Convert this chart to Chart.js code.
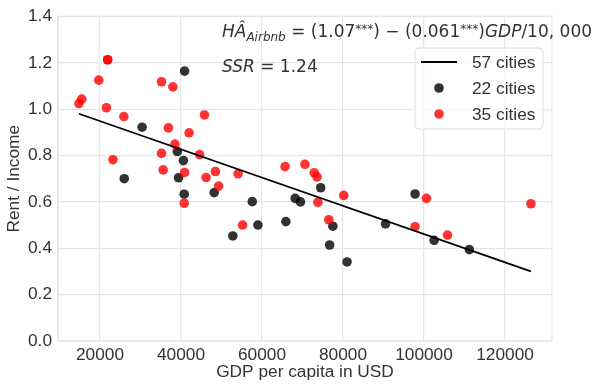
<!DOCTYPE html>
<html><head><meta charset="utf-8">
<script src="https://cdn.jsdelivr.net/npm/chart.js@4/dist/chart.umd.min.js"></script>
<style>html,body{margin:0;padding:0;background:#fff}#wrap{width:602px;height:389px}</style>
</head><body><div id="wrap"><canvas id="c" width="602" height="389"></canvas></div>
<script>
const xTicks = [20000, 40000, 60000, 80000, 100000, 120000];
const yTicks = [0, 0.2, 0.4, 0.6, 0.8, 1.0, 1.2, 1.4];
const lineX = [14800, 126400];
const lineY = [0.98, 0.30];
const blackX = [40900, 30400, 39100, 40600, 26000, 39400, 40800, 48200, 57600, 59000, 52800, 74500, 68200, 69500, 65900, 77500, 76700, 81000, 97800, 90500, 102500, 111200];
const blackY = [1.164, 0.922, 0.817, 0.778, 0.700, 0.704, 0.633, 0.640, 0.601, 0.500, 0.453, 0.661, 0.615, 0.600, 0.515, 0.495, 0.414, 0.341, 0.634, 0.505, 0.434, 0.394];
const redX = [14800, 15500, 21900, 21900, 19700, 21600, 25900, 23200, 35200, 38000, 36900, 42000, 45800, 38500, 35200, 35600, 40900, 44600, 48500, 46200, 49300, 54100, 40800, 55200, 65700, 70600, 72900, 73600, 73800, 80200, 76500, 100600, 97800, 105800, 126400];
const redY = [1.024, 1.043, 1.213, 1.213, 1.125, 1.006, 0.968, 0.782, 1.118, 1.096, 0.919, 0.898, 0.975, 0.849, 0.809, 0.738, 0.727, 0.804, 0.731, 0.705, 0.668, 0.721, 0.594, 0.500, 0.752, 0.762, 0.725, 0.708, 0.598, 0.628, 0.523, 0.615, 0.493, 0.457, 0.592];
const legendLabels = ['57 cities', '22 cities', '35 cities'];
const xTitle = 'GDP per capita in USD';
const yTitle = 'Rent / Income';

const BLACK = 'rgba(0,0,0,0.8)';
const RED = 'rgba(255,0,0,0.8)';
const GRID = '#e5e5e5';
const TXT = '#333333';
const SANS = '"Liberation Sans", Arial, sans-serif';
const MATH = '"DejaVu Sans", sans-serif';
const FS = 17.3;

const pts = (xs, ys) => xs.map((x, i) => ({x: x, y: ys[i]}));

const framePlugin = {
  id: 'frame',
  beforeDatasetsDraw(chart) {
    const {ctx, chartArea: a} = chart;
    ctx.save();
    ctx.strokeStyle = GRID; ctx.lineWidth = 1.2;
    ctx.strokeRect(a.left, a.top, a.right - a.left, a.bottom - a.top);
    ctx.restore();
  }
};

function drawRun(ctx, parts, x0, base, fitWidth) {
  let total = 0;
  parts.forEach(p => { ctx.font = p.f; total += ctx.measureText(p.t).width; });
  const s = fitWidth && total > fitWidth ? fitWidth / total : 1;
  ctx.save();
  ctx.translate(x0, base);
  ctx.scale(s, 1);
  let x = 0;
  parts.forEach(p => { ctx.font = p.f; ctx.fillText(p.t, x, p.dy || 0); x += ctx.measureText(p.t).width; });
  ctx.restore();
}

const textPlugin = {
  id: 'texts',
  afterDraw(chart) {
    const ctx = chart.ctx;
    ctx.save();
    ctx.fillStyle = TXT;
    ctx.textBaseline = 'alphabetic';
    const fs = 17;
    const big = fs + 'px ' + MATH, bigI = 'italic ' + fs + 'px ' + MATH;
    const small = '12px ' + MATH, smallI = 'italic 12px ' + MATH;
    drawRun(ctx, [
      {t: 'HÂ', f: bigI},
      {t: 'Airbnb', f: smallI, dy: 4},
      {t: ' = (1.07', f: big},
      {t: '***', f: small, dy: -4},
      {t: ') − (0.061', f: big},
      {t: '***', f: small, dy: -4},
      {t: ')', f: big},
      {t: 'GDP', f: bigI},
      {t: '/10, 000', f: big}
    ], 222, 37, 376);
    drawRun(ctx, [
      {t: 'SSR', f: bigI},
      {t: ' = 1.24', f: big}
    ], 222, 72, 0);

    // legend
    const lx = 415, ly = 48, lw = 128, lh = 81, r = 4;
    ctx.beginPath();
    ctx.moveTo(lx + r, ly); ctx.lineTo(lx + lw - r, ly); ctx.quadraticCurveTo(lx + lw, ly, lx + lw, ly + r);
    ctx.lineTo(lx + lw, ly + lh - r); ctx.quadraticCurveTo(lx + lw, ly + lh, lx + lw - r, ly + lh);
    ctx.lineTo(lx + r, ly + lh); ctx.quadraticCurveTo(lx, ly + lh, lx, ly + lh - r);
    ctx.lineTo(lx, ly + r); ctx.quadraticCurveTo(lx, ly, lx + r, ly); ctx.closePath();
    ctx.fillStyle = 'rgba(255,255,255,0.8)'; ctx.fill();
    ctx.strokeStyle = '#dcdcdc'; ctx.lineWidth = 1; ctx.stroke();
    const rows = [62, 88, 114];
    ctx.strokeStyle = '#000'; ctx.lineWidth = 1.8;
    ctx.beginPath(); ctx.moveTo(421, rows[0]); ctx.lineTo(457, rows[0]); ctx.stroke();
    ctx.fillStyle = BLACK; ctx.beginPath(); ctx.arc(439, rows[1], 4.8, 0, Math.PI * 2); ctx.fill();
    ctx.fillStyle = RED; ctx.beginPath(); ctx.arc(439, rows[2], 4.8, 0, Math.PI * 2); ctx.fill();
    ctx.fillStyle = TXT; ctx.font = FS + 'px ' + SANS; ctx.textBaseline = 'middle';
    legendLabels.forEach((l, i) => ctx.fillText(l, 472, rows[i] + 1));
    ctx.restore();
  }
};

new Chart(document.getElementById('c'), {
  type: 'scatter',
  data: {
    datasets: [
      {label: legendLabels[0], data: pts(lineX, lineY), showLine: true, borderColor: '#000', borderWidth: 1.8, pointRadius: 0, fill: false},
      {label: legendLabels[2], data: pts(redX, redY), backgroundColor: RED, borderWidth: 0, pointRadius: 4.8, pointHoverRadius: 4.8},
      {label: legendLabels[1], data: pts(blackX, blackY), backgroundColor: BLACK, borderWidth: 0, pointRadius: 4.8, pointHoverRadius: 4.8}
    ]
  },
  options: {
    responsive: false,
    animation: false,
    devicePixelRatio: 1,
    layout: {padding: {top: 14, right: 50, left: 0, bottom: 0}},
    plugins: {legend: {display: false}, tooltip: {enabled: false}},
    scales: {
      x: {
        type: 'linear', min: 9640, max: 131600,
        afterBuildTicks: s => { s.ticks = xTicks.map(v => ({value: v})); },
        afterFit: s => { s.height = 48; },
        ticks: {callback: v => String(v), font: {family: SANS, size: FS}, color: TXT, padding: 3.5, maxRotation: 0, autoSkip: false},
        grid: {color: GRID, lineWidth: 1.2, drawTicks: false},
        border: {display: true, color: GRID, width: 1.2},
        title: {display: true, text: xTitle, font: {family: SANS, size: FS}, color: TXT, padding: {top: 0, bottom: 6.6}}
      },
      y: {
        type: 'linear', min: 0, max: 1.4,
        afterBuildTicks: s => { s.ticks = yTicks.map(v => ({value: v})); },
        afterFit: s => { s.width = 58; },
        ticks: {callback: v => Number(v).toFixed(1), font: {family: SANS, size: FS}, color: TXT, padding: 6, autoSkip: false},
        grid: {color: GRID, lineWidth: 1.2, drawTicks: false},
        border: {display: true, color: GRID, width: 1.2},
        title: {display: true, text: yTitle, font: {family: SANS, size: FS}, color: TXT, padding: {top: 3.6, bottom: 0}}
      }
    }
  },
  plugins: [framePlugin, textPlugin]
});
</script></body></html>
